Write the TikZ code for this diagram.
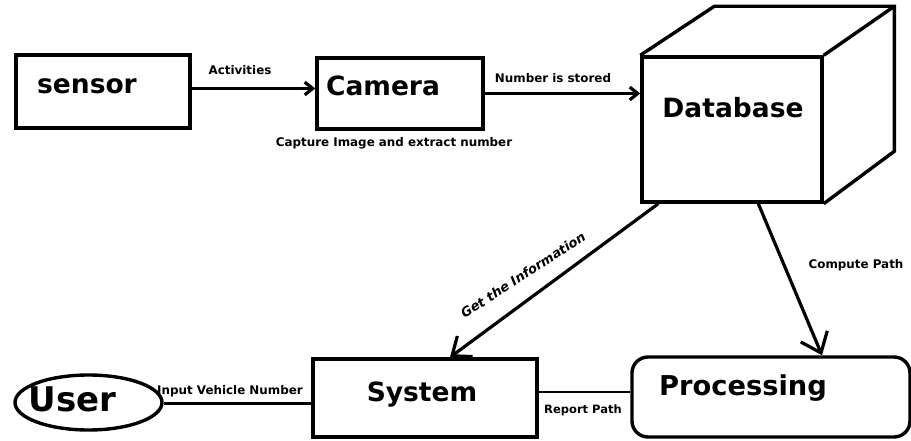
\documentclass[tikz,border=0pt]{standalone}
\usepackage{fontspec}
\setmainfont{DejaVu Sans}
\usetikzlibrary{arrows.meta,shapes.geometric,positioning}

\tikzset{
	box/.style={draw,line width=3.4pt,inner sep=0pt},
	boxtext/.style={font=\fontsize{26.5}{30}\selectfont\bfseries,inner sep=0pt},
	lbl/.style={font=\fontsize{11.9}{14}\selectfont\bfseries,inner sep=0pt},
	flow/.style={line width=3.2pt},
	barb/.style={-{Straight Barb[length=#1,width=1.6*#1]}}
}

\begin{document}
\begin{tikzpicture}[x=1pt,y=-1pt]

	\useasboundingbox (0,0) rectangle (911,441);

	% the boxes
	\node[box,minimum width=174pt,minimum height=73pt] (sensor) at (103,91.5) {};
	\node[box,minimum width=166pt,minimum height=71pt] (camera) at (400,93.5) {};
	\node[box,minimum width=180pt,minimum height=145pt] (db) at (732,129.5) {};
	\node[box,minimum width=224pt,minimum height=78pt] (sys) at (425,398) {};
	\node[box,rounded corners=16pt,minimum width=278pt,minimum height=80pt] (proc) at (771,397) {};
	\node[box,ellipse,minimum width=147pt,minimum height=55pt] (user) at (88.5,402.5) {};

	% back of the database cube
	\draw[box] (db.north west) -- ++(74pt,49pt) -- ++(180pt,0pt) coordinate (backne) -- ++(0pt,-145pt) -- (db.south east);
	\draw[box] (db.north east) -- (backne);

	% box names
	\node[boxtext] (sensor-t) at ([xshift=-16pt,yshift=5pt]sensor.center) {sensor};
	\node[boxtext] (camera-t) at ([xshift=-17pt,yshift=8pt]camera.center) {Camera};
	\node[boxtext] (db-t) at ([xshift=1pt,yshift=22pt]db.center) {Database};
	\node[boxtext] (sys-t) at ([xshift=-3pt,yshift=3pt]sys.center) {System};
	\node[boxtext,font=\fontsize{27.3}{30}\selectfont\bfseries] (proc-t) at ([xshift=-28pt,yshift=9pt]proc.center) {Processing};
	\node[boxtext,font=\fontsize{34}{36}\selectfont\bfseries] (user-t) at ([xshift=-16pt,yshift=3pt]user.center) {User};

	% connectors
	\draw[flow,barb=8pt] ([yshift=3pt]sensor.east) -- ([yshift=3pt]sensor.east -| camera.west);
	\draw[flow,barb=8pt] (camera.east) -- (camera.east -| db.west);
	\draw[flow,barb=16pt] ([xshift=18pt]db.south west) -- ([xshift=25pt]sys.north);
	\draw[flow,barb=18pt] ([xshift=118pt]db.south west) -- ([xshift=51pt]proc.north);
	\draw[flow] ([yshift=-1pt]user.east) -- ([yshift=-1pt]user.east -| sys.west);
	\draw[flow,line width=2.6pt] ([yshift=6pt]sys.east) -- ([yshift=6pt]sys.east -| proc.west);

	% connector labels
	\node[lbl] (act) at (240,70) {Activities};
	\node[lbl] (stored) at (553,78) {Number is stored};
	\node[lbl] (capture) at (394,143) {Capture Image and extract number};
	\node[lbl,font=\fontsize{13}{14}\selectfont\bfseries\itshape,rotate=33] (getinfo) at (523,275) {Get the Information};
	\node[lbl] (compute) at (856,265) {Compute Path};
	\node[lbl] (input) at (230,391) {Input Vehicle Number};
	\node[lbl,font=\fontsize{11.5}{14}\selectfont\bfseries] (report) at (583,410) {Report Path};

\end{tikzpicture}
\end{document}
